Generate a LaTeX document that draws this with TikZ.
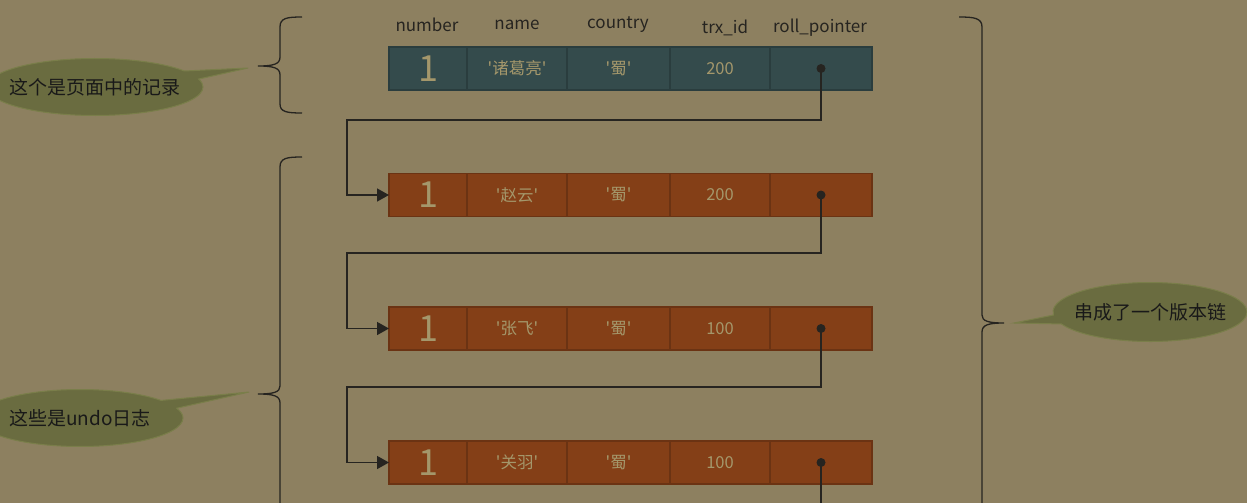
\documentclass[tikz,border=0pt]{standalone}
\usepackage{fontspec}
\newfontfamily\cjk{Noto Sans CJK SC}
\usetikzlibrary{positioning, shapes.callouts, arrows.meta}

\definecolor{bgtan}{HTML}{8D8060}
\definecolor{pagefill}{HTML}{344B4C}
\definecolor{pageline}{HTML}{2A3D3E}
\definecolor{undofill}{HTML}{843F17}
\definecolor{undoline}{HTML}{6B3313}
\definecolor{celltext}{HTML}{A4976B}
\definecolor{inkdark}{HTML}{262420}
\definecolor{bubblefill}{HTML}{6A6C40}
\definecolor{bubbleline}{HTML}{7A7E4A}

\begin{document}
\begin{tikzpicture}[
  x=1pt, y=-1pt,
  cell/.style={rectangle, draw, line width=1.5pt, minimum height=43pt, inner sep=0pt, outer sep=0pt, text=celltext, font=\cjk\fontsize{16.5}{18}\selectfont},
  pagerec/.style={cell, fill=pagefill, draw=pageline},
  undorec/.style={cell, fill=undofill, draw=undoline},
  big/.style={font=\cjk\fontsize{36}{36}\selectfont},
  head/.style={font=\cjk\fontsize{17}{19}\selectfont, text=inkdark},
  bubble/.style={ellipse callout, fill=bubblefill, draw=bubbleline, line width=1pt, inner sep=0pt, callout pointer arc=18, text=black!90, font=\cjk\fontsize{19}{22}\selectfont},
  ptr/.style={-{Triangle[length=12pt, width=13pt]}, line width=1.5pt, draw=inkdark},
  brace/.style={line width=1.3pt, draw=inkdark}
]
  \fill[bgtan] (0,0) rectangle (1247,503);
  \useasboundingbox (0,0) rectangle (1247,503);

  % column titles
  \node[head] (hnum) at (427,25) {number};
  \node[head] (hname) at (517,25) {name};
  \node[head] (hcountry) at (618,25) {country};
  \node[head] (htrx) at (725,28) {trx\_id};
  \node[head] (hptr) at (820,28) {roll\_pointer};

  % record in the page
  \node[pagerec, big, minimum width=78pt] (zhugenum) at (428,68.5) {1};
  \node[pagerec, minimum width=100pt, right=0pt of zhugenum] (zhugename) {'诸葛亮'};
  \node[pagerec, minimum width=103pt, right=0pt of zhugename] (zhugecountry) {'蜀'};
  \node[pagerec, minimum width=100pt, right=0pt of zhugecountry] (zhugetrx) {200};
  \node[pagerec, minimum width=102pt, right=0pt of zhugetrx] (zhugeptr) {};

  % undo log records
  \node[undorec, big, minimum width=78pt] (zhaonum) at (428,195) {1};
  \node[undorec, minimum width=100pt, right=0pt of zhaonum] (zhaoname) {'赵云'};
  \node[undorec, minimum width=103pt, right=0pt of zhaoname] (zhaocountry) {'蜀'};
  \node[undorec, minimum width=100pt, right=0pt of zhaocountry] (zhaotrx) {200};
  \node[undorec, minimum width=102pt, right=0pt of zhaotrx] (zhaoptr) {};

  \node[undorec, big, minimum width=78pt] (zhangnum) at (428,328.5) {1};
  \node[undorec, minimum width=100pt, right=0pt of zhangnum] (zhangname) {'张飞'};
  \node[undorec, minimum width=103pt, right=0pt of zhangname] (zhangcountry) {'蜀'};
  \node[undorec, minimum width=100pt, right=0pt of zhangcountry] (zhangtrx) {100};
  \node[undorec, minimum width=102pt, right=0pt of zhangtrx] (zhangptr) {};

  \node[undorec, big, minimum width=78pt] (guannum) at (428,462.5) {1};
  \node[undorec, minimum width=100pt, right=0pt of guannum] (guanname) {'关羽'};
  \node[undorec, minimum width=103pt, right=0pt of guanname] (guancountry) {'蜀'};
  \node[undorec, minimum width=100pt, right=0pt of guancountry] (guantrx) {100};
  \node[undorec, minimum width=102pt, right=0pt of guantrx] (guanptr) {};

  % roll pointers
  \coordinate (bendA) at (347,120);
  \coordinate (bendB) at (347,253);
  \coordinate (bendC) at (347,387);
  \coordinate (chainend) at (zhugeptr.center |- 0,503);
  \draw[ptr] (zhugeptr.center) |- (bendA) |- (zhaonum.west);
  \draw[ptr] (zhaoptr.center) |- (bendB) |- (zhangnum.west);
  \draw[ptr] (zhangptr.center) |- (bendC) |- (guannum.west);
  \draw[line width=1.5pt, draw=inkdark] (guanptr.center) -- (chainend);
  \foreach \p in {zhugeptr, zhaoptr, zhangptr, guanptr}
    \fill[inkdark] (\p.center) circle (4.5pt);

  % braces
  \draw[brace] (302,17) .. controls (287,17) and (280,18) .. (280,27) -- (280,57)
    .. controls (280,64) and (274,66) .. (258,66) .. controls (274,66) and (280,68) .. (280,75)
    -- (280,104) .. controls (280,112) and (287,113) .. (302,113);
  \draw[brace] (302,157) .. controls (287,157) and (280,158) .. (280,167) -- (280,386)
    .. controls (280,392) and (274,394) .. (258,394) .. controls (274,394) and (280,396) .. (280,403)
    -- (280,503);
  \draw[brace] (959,17) .. controls (974,17) and (982,18) .. (982,27) -- (982,315)
    .. controls (982,321) and (988,323) .. (1004,323) .. controls (988,323) and (982,325) .. (982,332)
    -- (982,503);

  % callouts
  \coordinate (ptrA) at (248,68);
  \coordinate (ptrB) at (249,392);
  \coordinate (ptrC) at (1014,323);
  \node[bubble, minimum width=216pt, minimum height=57pt, callout absolute pointer={(ptrA)}] (notepage) at (95,87) {\makebox[110pt]{这个是页面中的记录}};
  \node[bubble, minimum width=206pt, minimum height=57pt, callout absolute pointer={(ptrB)}] (noteundo) at (80,418) {\makebox[110pt]{这些是undo日志}};
  \node[bubble, minimum width=194pt, minimum height=59pt, callout absolute pointer={(ptrC)}] (notechain) at (1150,312) {\makebox[110pt]{串成了一个版本链}};
\end{tikzpicture}
\end{document}
